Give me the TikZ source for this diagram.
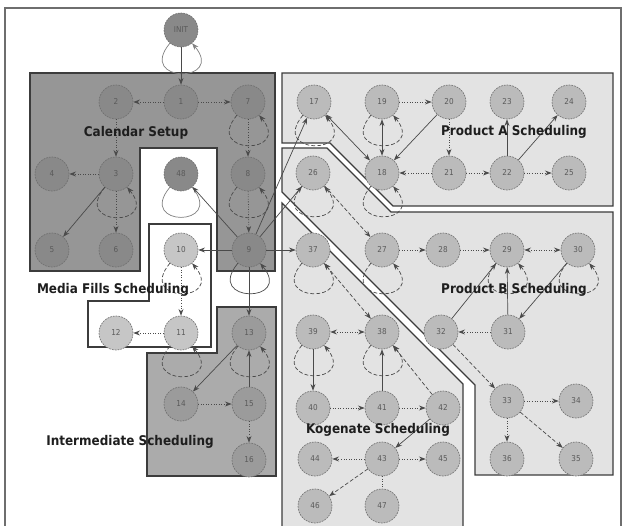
\documentclass[tikz,border=0pt]{standalone}
\usepackage{fontspec}
\setsansfont{DejaVu Sans Condensed}
\usetikzlibrary{arrows.meta}
\definecolor{frame}{HTML}{6E6E6E}
\definecolor{edge}{HTML}{4A4A4A}
\definecolor{border}{HTML}{3C3C3C}
\definecolor{calfill}{HTML}{969696}
\definecolor{intfill}{HTML}{ABABAB}
\definecolor{prodfill}{HTML}{E3E3E3}
\definecolor{caljob}{HTML}{898989}
\definecolor{intjob}{HTML}{9B9B9B}
\definecolor{mediajob}{HTML}{C6C6C6}
\definecolor{prodjob}{HTML}{BBBBBB}
\definecolor{jobtxt}{HTML}{5A5A5A}
\definecolor{title}{HTML}{1E1E1E}

\begin{document}
\begin{tikzpicture}[
  x=0.02cm, y=-0.02cm,
  >={Stealth[length=3.8pt,width=2.8pt]},
  job/.style={circle, draw=edge!80, dash pattern=on 1pt off 0.6pt, line width=0.35pt, minimum size=0.68cm, inner sep=0pt, font=\sffamily\fontsize{4.6}{5}\selectfont, text=jobtxt},
  cal/.style={job, fill=caljob},
  inter/.style={job, fill=intjob},
  media/.style={job, fill=mediajob},
  prod/.style={job, fill=prodjob},
  region/.style={draw=border, line width=0.7pt},
  title/.style={font=\sffamily\bfseries\fontsize{7.6}{9}\selectfont, text=title},
  dotline/.style={->, draw=edge, line width=0.45pt, densely dotted},
  dashline/.style={->, draw=edge, line width=0.4pt, dash pattern=on 2.2pt off 1.2pt},
  solidline/.style={->, draw=edge, line width=0.4pt},
  selfloop/.style={out=-130, in=-50, min distance=1.05cm},
]
\useasboundingbox (0,0) rectangle (625,526);

% frame
\draw[frame, line width=0.9pt] (5,540) -- (5,8) -- (621,8) -- (621,540);

% groups
\filldraw[region, fill=calfill] (30,73) -- (275,73) -- (275,271) -- (217,271) -- (217,148) -- (140,148) -- (140,271) -- (30,271) -- cycle;
\filldraw[region, fill=intfill] (217,307) -- (276,307) -- (276,476) -- (147,476) -- (147,353) -- (217,353) -- cycle;
\filldraw[region, fill=white] (149,224) -- (211,224) -- (211,347) -- (88,347) -- (88,301) -- (149,301) -- cycle;
\filldraw[region, fill=prodfill] (282,73) -- (613,73) -- (613,206) -- (393,206) -- (330,143) -- (282,143) -- cycle;
\filldraw[region, fill=prodfill] (282,148) -- (327,148) -- (391,212) -- (613,212) -- (613,475) -- (475,475) -- (475,385) -- (282,192) -- cycle;
\filldraw[region, fill=prodfill] (282,203) -- (463,384) -- (463,540) -- (282,540) -- cycle;

% jobs
\node[cal] (init) at (181,30) {INIT};
\node[cal] (n1) at (181,102) {1};
\node[cal] (n2) at (116,102) {2};
\node[cal] (n7) at (248,102) {7};
\node[cal] (n3) at (116,174) {3};
\node[cal] (n4) at (52,174) {4};
\node[cal] (n48) at (181,174) {48};
\node[cal] (n8) at (248,174) {8};
\node[cal] (n5) at (52,250) {5};
\node[cal] (n6) at (116,250) {6};
\node[cal] (n9) at (249,250) {9};
\node[media] (n10) at (181,250) {10};
\node[media] (n11) at (181,333) {11};
\node[media] (n12) at (116,333) {12};
\node[inter] (n13) at (249,333) {13};
\node[inter] (n14) at (181,404) {14};
\node[inter] (n15) at (249,404) {15};
\node[inter] (n16) at (249,460) {16};

\node[prod] (n17) at (314,102) {17};
\node[prod] (n19) at (382,102) {19};
\node[prod] (n20) at (449,102) {20};
\node[prod] (n23) at (507,102) {23};
\node[prod] (n24) at (569,102) {24};
\node[prod] (n18) at (382,173) {18};
\node[prod] (n21) at (449,173) {21};
\node[prod] (n22) at (507,173) {22};
\node[prod] (n25) at (569,173) {25};

\node[prod] (n26) at (313,173) {26};
\node[prod] (n37) at (313,250) {37};
\node[prod] (n27) at (382,250) {27};
\node[prod] (n28) at (443,250) {28};
\node[prod] (n29) at (507,250) {29};
\node[prod] (n30) at (578,250) {30};
\node[prod] (n32) at (441,332) {32};
\node[prod] (n31) at (508,332) {31};
\node[prod] (n33) at (507,401) {33};
\node[prod] (n34) at (576,401) {34};
\node[prod] (n36) at (507,459) {36};
\node[prod] (n35) at (576,459) {35};

\node[prod] (n39) at (313,332) {39};
\node[prod] (n38) at (382,332) {38};
\node[prod] (n40) at (313,408) {40};
\node[prod] (n41) at (382,408) {41};
\node[prod] (n42) at (443,408) {42};
\node[prod] (n44) at (315,459) {44};
\node[prod] (n43) at (382,459) {43};
\node[prod] (n45) at (443,459) {45};
\node[prod] (n46) at (315,506) {46};
\node[prod] (n47) at (382,506) {47};

% calendar setup
\draw[solidline, draw=edge!70] (init) to[selfloop] (init);
\draw[solidline] (init) -- (n1);
\draw[dotline] (n1) -- (n2);
\draw[dotline] (n1) -- (n7);
\draw[dotline] (n2) -- (n3);
\draw[dotline] (n3) -- (n4);
\draw[dotline] (n3) -- (n6);
\draw[solidline] (n3) -- (n5);
\draw[dashline] (n3) to[selfloop] (n3);
\draw[dashline] (n7) to[selfloop] (n7);
\draw[dotline] (n7) -- (n8);
\draw[dashline] (n8) to[selfloop] (n8);
\draw[dotline] (n8) -- (n9);
\draw[solidline, -, draw=edge!70] (n48) to[selfloop] (n48);
\draw[solidline] (n9) -- (n48);
\draw[solidline] (n9) to[selfloop] (n9);
\draw[solidline] (n9) -- (n10);
\draw[solidline] (n9) -- (n13);
\draw[solidline] (n9) -- (n37);
\draw[solidline] (n9) -- (n26);
\draw[solidline] (n9) -- (n17);

% media fills
\draw[dashline] (n10) to[selfloop] (n10);
\draw[dotline] (n10) -- (n11);
\draw[dotline] (n11) -- (n12);
\draw[dashline] (n11) to[selfloop] (n11);

% intermediate
\draw[dashline] (n13) to[selfloop] (n13);
\draw[solidline] (n13) -- (n14);
\draw[dotline] (n14) -- (n15);
\draw[solidline] (n15) -- (n13);
\draw[dotline] (n15) -- (n16);

% product A
\draw[dashline] (n17) to[selfloop] (n17);
\draw[solidline, <->] (n17) -- (n18);
\draw[dashline] (n19) to[selfloop] (n19);
\draw[solidline, <->] (n19) -- (n18);
\draw[dotline] (n19) -- (n20);
\draw[solidline] (n20) -- (n18);
\draw[dotline] (n20) -- (n21);
\draw[dotline] (n21) -- (n18);
\draw[dotline] (n21) -- (n22);
\draw[solidline] (n22) -- (n23);
\draw[solidline] (n22) -- (n24);
\draw[dotline] (n22) -- (n25);
\draw[dashline] (n18) to[selfloop] (n18);

% product B
\draw[dashline] (n26) to[selfloop] (n26);
\draw[dashline] (n26) -- (n27);
\draw[dashline] (n27) to[selfloop] (n27);
\draw[dotline] (n27) -- (n28);
\draw[dotline] (n28) -- (n29);
\draw[dotline, <->] (n29) -- (n30);
\draw[dashline] (n29) to[selfloop] (n29);
\draw[dashline] (n30) to[selfloop] (n30);
\draw[solidline] (n30) -- (n31);
\draw[solidline] (n31) -- (n29);
\draw[dotline] (n31) -- (n32);
\draw[solidline] (n32) -- (n29);
\draw[dashline] (n32) -- (n33);
\draw[dotline] (n33) -- (n34);
\draw[dotline] (n33) -- (n36);
\draw[dashline] (n33) -- (n35);
\draw[dashline] (n37) to[selfloop] (n37);
\draw[dashline, <->] (n37) -- (n38);

% kogenate
\draw[dotline, <->] (n39) -- (n38);
\draw[dashline] (n39) to[selfloop] (n39);
\draw[solidline] (n39) -- (n40);
\draw[dotline] (n40) -- (n41);
\draw[solidline] (n41) -- (n38);
\draw[dotline] (n41) -- (n42);
\draw[dashline] (n42) -- (n38);
\draw[dashline] (n38) to[selfloop] (n38);
\draw[solidline] (n42) -- (n43);
\draw[dotline] (n43) -- (n44);
\draw[dotline] (n43) -- (n45);
\draw[dashline] (n43) -- (n46);
\draw[dotline, -] (n43) -- (n47);

% group titles
\node[title] (caltitle) at (136,133) {Calendar Setup};
\node[title] (atitle) at (514,132) {Product A Scheduling};
\node[title] (mediatitle) at (113,290) {Media Fills Scheduling};
\node[title] (btitle) at (514,290) {Product B Scheduling};
\node[title] (inttitle) at (130,442) {Intermediate Scheduling};
\node[title] (kogtitle) at (378,430) {Kogenate Scheduling};

\end{tikzpicture}
\end{document}
